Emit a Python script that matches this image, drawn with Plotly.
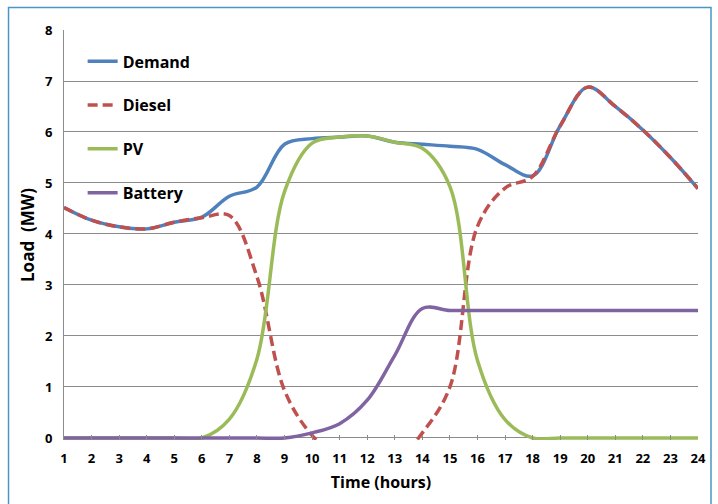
import plotly.graph_objects as go

# Hourly load profile (MW)
hours = list(range(1, 25))
demand = [4.52, 4.27, 4.14, 4.10, 4.23, 4.33, 4.74, 4.92, 5.76, 5.87, 5.90, 5.92,
          5.80, 5.76, 5.72, 5.66, 5.36, 5.14, 6.12, 6.88, 6.50, 6.04, 5.50, 4.89]
diesel = [4.52, 4.27, 4.14, 4.10, 4.23, 4.32, 4.36, 3.16, 0.93, 0.05, -0.40, -0.70,
          -0.50, 0.10, 1.00, 4.15, 4.90, 5.13, 6.12, 6.88, 6.50, 6.04, 5.50, 4.89]
pv = [0, 0, 0, 0, 0, 0, 0.37, 1.55, 4.83, 5.78, 5.90, 5.92,
      5.80, 5.68, 4.93, 1.52, 0.36, 0, 0, 0, 0, 0, 0, 0]
battery = [0, 0, 0, 0, 0, 0, 0, 0, 0, 0.10, 0.28, 0.74,
           1.62, 2.54, 2.50, 2.50, 2.50, 2.50, 2.50, 2.50, 2.50, 2.50, 2.50, 2.50]
x_ticks = list(range(1, 25))
y_ticks = list(range(0, 9))

FONT = "Open Sans"
GRID = "#8c8c8c"

series = [
    ("Demand", demand, "#4F81BD", "solid"),
    ("Diesel", diesel, "#C0504D", "10px,5px"),
    ("PV", pv, "#9BBB59", "solid"),
    ("Battery", battery, "#8064A2", "solid"),
]

fig = go.Figure()
for name, values, color, dash in series:
    fig.add_trace(go.Scatter(
        x=hours, y=values, name=name, mode="lines", legendgroup=name,
        line=dict(color=color, width=3.5, dash=dash, shape="spline", smoothing=1),
    ))

fig.update_layout(
    width=718, height=504,
    margin=dict(l=64, r=14, t=30, b=64),
    paper_bgcolor="white", plot_bgcolor="white",
    font=dict(family=FONT, color="black", size=13, weight="bold"),
    showlegend=True,
    legend=dict(
        x=0.0294, y=0.965, xanchor="left", yanchor="top",
        bgcolor="rgba(0,0,0,0)", tracegroupgap=20, itemwidth=30,
        font=dict(family=FONT, size=16, color="black", weight="bold"),
    ),
    xaxis=dict(
        range=[1, 24], tickvals=x_ticks, ticktext=[str(v) for v in x_ticks],
        showgrid=False, showline=False, zeroline=False,
        ticks="inside", ticklen=5, tickcolor=GRID, tickwidth=1,
        ticklabelstandoff=9,
        tickfont=dict(family=FONT, size=13, color="black", weight="bold"),
        title=dict(text="Time (hours)", standoff=10,
                   font=dict(family=FONT, size=16, color="black", weight="bold")),
    ),
    yaxis=dict(
        range=[-0.04, 8], tickvals=y_ticks,
        showgrid=True, gridcolor=GRID, gridwidth=1,
        zeroline=True, zerolinecolor=GRID, zerolinewidth=1,
        showline=True, linecolor=GRID, linewidth=1,
        ticks="", ticklabelstandoff=8,
        tickfont=dict(family=FONT, size=13, color="black", weight="bold"),
        title=dict(text="Load  (MW)", standoff=6,
                   font=dict(family=FONT, size=17, color="black", weight="bold")),
    ),
    shapes=[dict(
        type="rect", xref="paper", yref="paper",
        x0=-0.0875, x1=1.0205, y0=-0.25, y1=1.055,
        line=dict(color="#4A94C8", width=1.5), fillcolor="rgba(0,0,0,0)",
        layer="below",
    )],
)

fig.write_html("out.html")
